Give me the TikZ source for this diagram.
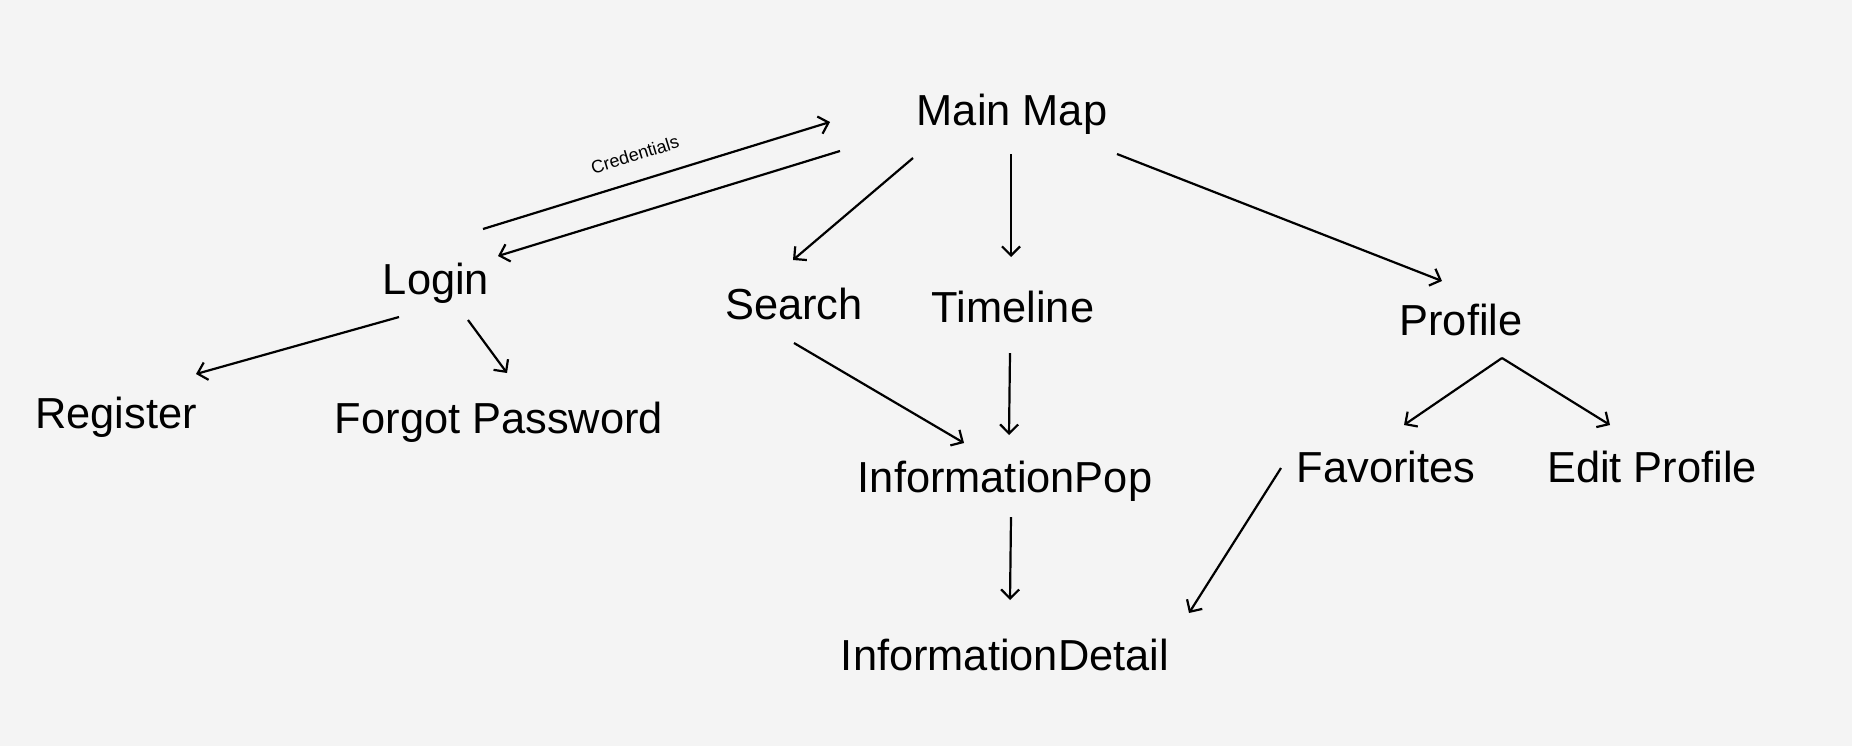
\documentclass[tikz,border=0pt]{standalone}
\usepackage{fontspec}
\setmainfont{Liberation Sans}
\usetikzlibrary{arrows.meta}
\definecolor{bg}{HTML}{F4F4F4}
\tikzset{
  lbl/.style={anchor=base, inner sep=0pt, font=\fontsize{21.7pt}{26pt}\selectfont},
  conn/.style={line width=1.1pt, -{Straight Barb[length=4.5pt,width=9pt,line width=1.1pt]}},
  small/.style={font=\fontsize{9pt}{11pt}\selectfont}
}
\begin{document}
\begin{tikzpicture}[x=0.5pt,y=-0.5pt]
\fill[bg] (0,0) rectangle (1852,746);
\useasboundingbox (0,0) rectangle (1852,746);

% nodes
\node[lbl] (main) at (1012,125) {Main Map};
\node[lbl] (login) at (436,294) {Login};
\node[lbl] (search) at (794,319) {Search};
\node[lbl] (timeline) at (1013,322) {Timeline};
\node[lbl] (profile) at (1461,335) {Profile};
\node[lbl] (register) at (116,428) {Register};
\node[lbl] (forgot) at (499,433) {Forgot Password};
\node[lbl] (infopop) at (1005,492) {InformationPop};
\node[lbl] (favorites) at (1386,482) {Favorites};
\node[lbl] (edit) at (1652,482) {Edit Profile};
\node[lbl] (infodetail) at (1005,670) {InformationDetail};

% connector end points
\coordinate (login-o) at (483,229);
\coordinate (main-i) at (830,122);
\coordinate (main-o1) at (840,151);
\coordinate (login-i) at (498,256);
\coordinate (main-o2) at (913,158);
\coordinate (search-i) at (793,260);
\coordinate (main-o3) at (1011,154);
\coordinate (timeline-i) at (1011,257);
\coordinate (main-o4) at (1117,154);
\coordinate (profile-i) at (1442,281);
\coordinate (login-o2) at (399,317);
\coordinate (register-i) at (196,374);
\coordinate (login-o3) at (468,320);
\coordinate (forgot-i) at (507,373);
\coordinate (search-o) at (794,343);
\coordinate (infopop-i1) at (964,443);
\coordinate (timeline-o) at (1010,353);
\coordinate (infopop-i2) at (1009,435);
\coordinate (profile-o) at (1502,358);
\coordinate (favorites-i) at (1404,425);
\coordinate (edit-i) at (1610,425);
\coordinate (infopop-o) at (1011,517);
\coordinate (infodetail-i1) at (1010,600);
\coordinate (favorites-o) at (1281,468);
\coordinate (infodetail-i2) at (1189,613);

% connectors
\draw[conn] (login-o) -- node[pos=0.46, sloped, above=6pt, small] (cred) {Credentials} (main-i);
\draw[conn] (main-o1) -- (login-i);
\draw[conn] (main-o2) -- (search-i);
\draw[conn] (main-o3) -- (timeline-i);
\draw[conn] (main-o4) -- (profile-i);
\draw[conn] (login-o2) -- (register-i);
\draw[conn] (login-o3) -- (forgot-i);
\draw[conn] (search-o) -- (infopop-i1);
\draw[conn] (timeline-o) -- (infopop-i2);
\draw[conn] (profile-o) -- (favorites-i);
\draw[conn] (profile-o) -- (edit-i);
\draw[conn] (infopop-o) -- (infodetail-i1);
\draw[conn] (favorites-o) -- (infodetail-i2);
\end{tikzpicture}
\end{document}
